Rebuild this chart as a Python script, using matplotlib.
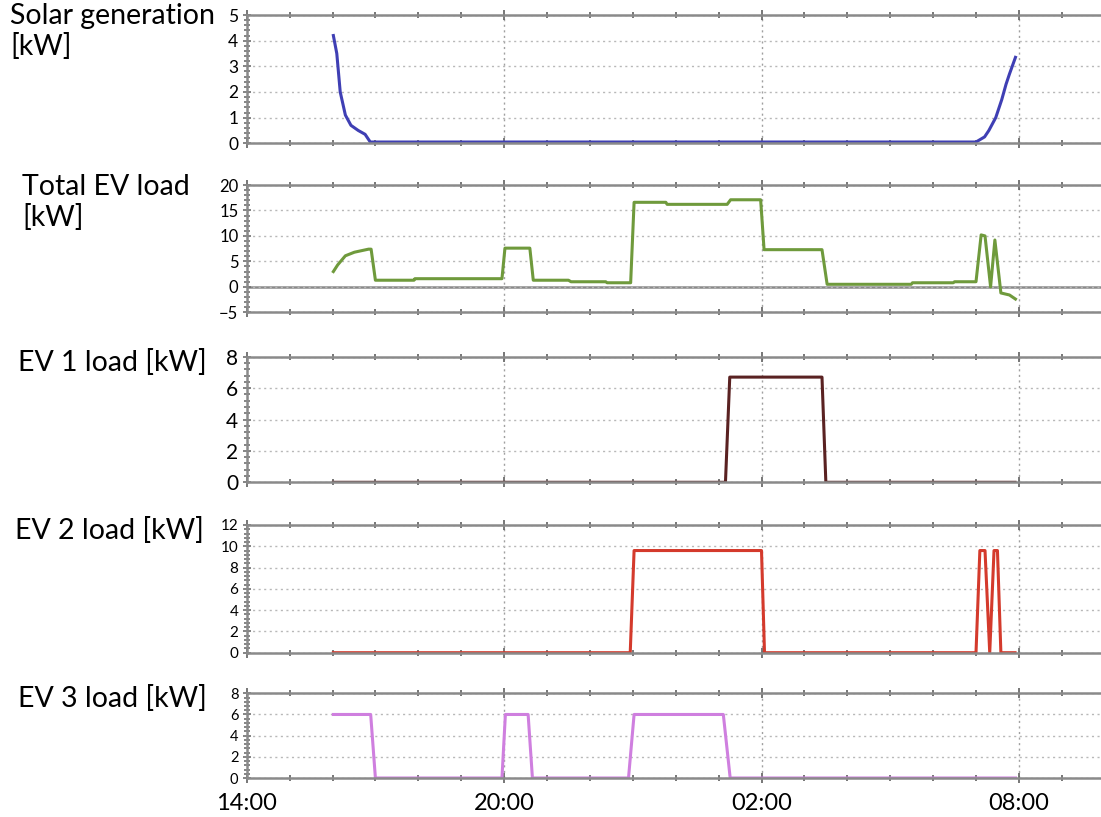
import matplotlib.pyplot as plt
from matplotlib.ticker import MultipleLocator, AutoMinorLocator

plt.rcParams["font.family"] = ["Lato", "DejaVu Sans"]

# time axis: hours after 14:00
tick_hours = [0, 6, 12, 18]
tick_labels = ["14:00", "20:00", "02:00", "08:00"]

solar_t = [2.02, 2.10, 2.18, 2.30, 2.43, 2.60, 2.76, 2.88, 17.00, 17.20, 17.30, 17.46, 17.60, 17.70, 17.78, 17.92]
solar_kw = [4.2, 3.5, 2.0, 1.1, 0.7, 0.5, 0.35, 0.05, 0.05, 0.25, 0.5, 1.0, 1.7, 2.3, 2.7, 3.35]

total_t = [2.02, 2.12, 2.30, 2.51, 2.84, 2.90, 3.00, 3.90, 3.92, 5.95, 6.02, 6.60, 6.68, 7.50, 7.56,
           8.37, 8.40, 8.95, 9.03, 9.77, 9.80, 11.20, 11.28, 11.98, 12.06, 13.41, 13.53, 15.49, 15.52,
           16.47, 16.50, 17.00, 17.12, 17.21, 17.34, 17.44, 17.58, 17.78, 17.92]
total_kw = [3.0, 4.3, 6.1, 6.8, 7.4, 7.4, 1.3, 1.3, 1.6, 1.6, 7.6, 7.6, 1.3, 1.3, 1.0,
            1.0, 0.8, 0.8, 16.6, 16.6, 16.2, 16.2, 17.1, 17.1, 7.3, 7.3, 0.5, 0.5, 0.8,
            0.8, 1.0, 1.0, 10.2, 10.0, 0.0, 9.2, -1.2, -1.6, -2.4]

ev1_t = [2.02, 11.16, 11.26, 13.41, 13.50, 17.91]
ev1_kw = [0.0, 0.0, 6.7, 6.7, 0.0, 0.0]

ev2_t = [2.02, 8.94, 9.03, 12.00, 12.07, 17.00, 17.09, 17.21, 17.32, 17.42, 17.50, 17.58, 17.91]
ev2_kw = [0.0, 0.0, 9.6, 9.6, 0.0, 0.0, 9.6, 9.6, 0.0, 9.6, 9.6, 0.0, 0.0]

ev3_t = [2.02, 2.89, 3.00, 5.95, 6.03, 6.56, 6.66, 8.90, 9.03, 11.11, 11.27, 17.92]
ev3_kw = [6.0, 6.0, 0.0, 0.0, 6.0, 6.0, 0.0, 0.0, 6.0, 6.0, 0.0, 0.0]

W, H = 1101, 817
LEFT = 246.7
HOUR_PX = 42.9
SPINE = "#8a8a8a"

# (top px, bottom px, ylim, y step, tick font size, series, colour, label, label pos)
panels = [
    (15, 143.3, (0, 5), 1, 12.5, (solar_t, solar_kw), "#3f3fb4",
     "Solar generation\n[kW]", (10, 3)),
    (185, 312.3, (-5, 20), 5, 12, (total_t, total_kw), "#6f9a3c",
     "Total EV load\n[kW]", (22, 174)),
    (356.7, 482.3, (0, 8), 2, 15, (ev1_t, ev1_kw), "#5a2222",
     "EV 1 load [kW]", (18, 349)),
    (525, 652.7, (0, 12), 2, 11, (ev2_t, ev2_kw), "#d43a2c",
     "EV 2 load [kW]", (15, 517)),
    (693.3, 778, (0, 8), 2, 10.5, (ev3_t, ev3_kw), "#cf7fdf",
     "EV 3 load [kW]", (18, 685)),
]


def main() -> None:
    fig = plt.figure(figsize=(W / 100, H / 100), dpi=100)
    xmax = (W - LEFT) / HOUR_PX

    for idx, (top, bottom, ylim, ystep, tsize, (t, v), color, label, lpos) in enumerate(panels):
        ax = fig.add_axes([LEFT / W, 1 - bottom / H, 1 - LEFT / W, (bottom - top) / H])
        ax.plot(t, v, color=color, linewidth=2.2, solid_joinstyle="round")
        ax.set_xlim(0, xmax)
        ax.set_ylim(*ylim)

        ax.xaxis.set_major_locator(MultipleLocator(6))
        ax.xaxis.set_minor_locator(MultipleLocator(1))
        ax.yaxis.set_major_locator(MultipleLocator(ystep))
        ax.yaxis.set_minor_locator(AutoMinorLocator(5))

        ax.grid(True, axis="y", which="major", linestyle=(0, (1.5, 2.5)),
                color="#b8b8b8", linewidth=1.0)
        ax.grid(True, axis="x", which="major", linestyle=(0, (1.5, 2.5)),
                color="#a0a0a0", linewidth=1.0)
        if ylim[0] < 0:
            ax.axhline(0, color=SPINE, linewidth=1.8, zorder=1)

        for side in ("top", "bottom", "left"):
            ax.spines[side].set_color(SPINE)
            ax.spines[side].set_linewidth(1.8)
        ax.spines["right"].set_visible(False)

        ax.tick_params(axis="x", which="both", direction="inout", top=True,
                       color="#606060", length=5, width=1.2)
        ax.tick_params(axis="x", which="major", length=7)
        ax.tick_params(axis="y", which="both", direction="inout", color="#707070",
                       length=6, width=1.2, labelsize=tsize, pad=3)
        ax.tick_params(axis="y", which="minor", length=4)

        ax.set_xticks(tick_hours)
        if idx == len(panels) - 1:
            ax.set_xticklabels(tick_labels, fontsize=17)
            ax.tick_params(axis="x", which="major", pad=7)
        else:
            ax.set_xticklabels([])

        fig.text(lpos[0] / W, 1 - lpos[1] / H, label, fontsize=20.5,
                 ha="left", va="top", linespacing=1.2)

    fig.savefig("out.png", dpi=100)


if __name__ == "__main__":
    main()
